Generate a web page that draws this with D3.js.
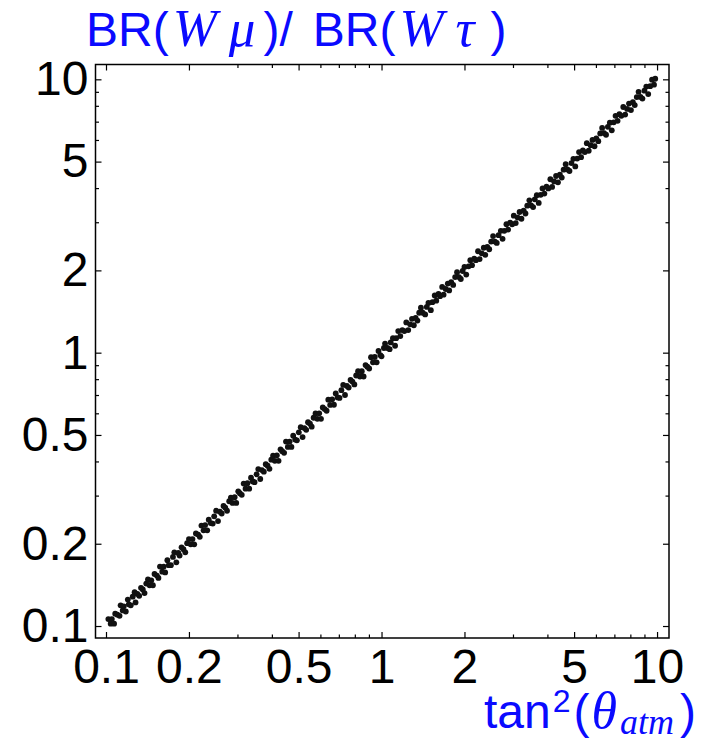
<!DOCTYPE html>
<html>
<head>
<meta charset="utf-8">
<script src="https://cdn.jsdelivr.net/npm/d3@7"></script>
<style>
  html, body { margin: 0; padding: 0; background: #fff; }
  svg { display: block; }
  .tick text { font-family: "Liberation Sans", Arial, Helvetica, sans-serif; fill: #000; }
  .tick line { stroke: #000; stroke-width: 1.2; }
</style>
</head>
<body>
<svg id="chart" width="704" height="743"></svg>
<script>
// tan^2(theta_atm) versus BR(W mu)/BR(W tau) for the parameter scan
const scanPoints = [
  [0.102,0.106],[0.104,0.102],[0.105,0.106],[0.107,0.102],[0.108,0.111],[0.110,0.110],[0.112,0.109],[0.113,0.119],
  [0.115,0.114],[0.116,0.118],[0.118,0.113],[0.120,0.125],[0.121,0.120],[0.123,0.119],[0.125,0.128],[0.127,0.133],
  [0.128,0.122],[0.130,0.131],[0.132,0.129],[0.134,0.138],[0.136,0.136],[0.138,0.132],[0.140,0.143],[0.142,0.148],
  [0.144,0.141],[0.146,0.147],[0.148,0.141],[0.150,0.155],[0.153,0.153],[0.155,0.150],[0.157,0.165],[0.160,0.158],
  [0.162,0.165],[0.164,0.157],[0.167,0.174],[0.169,0.167],[0.172,0.167],[0.175,0.179],[0.177,0.186],[0.180,0.171],
  [0.183,0.185],[0.185,0.181],[0.188,0.194],[0.191,0.191],[0.194,0.186],[0.197,0.201],[0.200,0.208],[0.203,0.199],
  [0.206,0.208],[0.209,0.199],[0.212,0.218],[0.216,0.216],[0.219,0.212],[0.222,0.233],[0.226,0.224],[0.229,0.234],
  [0.233,0.224],[0.236,0.245],[0.240,0.238],[0.244,0.237],[0.247,0.252],[0.251,0.264],[0.255,0.242],[0.259,0.262],
  [0.263,0.258],[0.267,0.275],[0.271,0.271],[0.275,0.264],[0.280,0.286],[0.284,0.295],[0.288,0.282],[0.293,0.296],
  [0.297,0.282],[0.302,0.311],[0.306,0.306],[0.311,0.302],[0.316,0.332],[0.321,0.318],[0.326,0.333],[0.331,0.318],
  [0.336,0.349],[0.341,0.338],[0.346,0.336],[0.352,0.359],[0.357,0.375],[0.363,0.345],[0.368,0.372],[0.374,0.367],
  [0.380,0.391],[0.386,0.386],[0.392,0.376],[0.398,0.406],[0.404,0.420],[0.410,0.402],[0.417,0.421],[0.423,0.402],
  [0.430,0.443],[0.436,0.436],[0.443,0.430],[0.450,0.473],[0.457,0.452],[0.464,0.473],[0.471,0.452],[0.478,0.497],
  [0.486,0.481],[0.493,0.478],[0.501,0.511],[0.509,0.534],[0.517,0.491],[0.525,0.530],[0.533,0.522],[0.541,0.557],
  [0.550,0.550],[0.558,0.536],[0.567,0.578],[0.576,0.599],[0.585,0.573],[0.594,0.600],[0.603,0.573],[0.612,0.630],
  [0.622,0.622],[0.632,0.613],[0.641,0.673],[0.651,0.644],[0.662,0.675],[0.672,0.645],[0.682,0.709],[0.693,0.686],
  [0.704,0.683],[0.715,0.729],[0.726,0.762],[0.737,0.700],[0.749,0.756],[0.760,0.745],[0.772,0.795],[0.784,0.784],
  [0.797,0.765],[0.809,0.825],[0.822,0.855],[0.835,0.818],[0.848,0.856],[0.861,0.818],[0.875,0.901],[0.888,0.888],
  [0.902,0.875],[0.916,0.962],[0.931,0.922],[0.945,0.964],[0.960,0.922],[0.975,1.014],[0.990,0.980],
  [1.00,0.970],[1.02,1.04],[1.03,1.08],[1.05,1.04],[1.07,1.03],[1.08,1.09],[1.10,1.13],[1.12,1.06],
  [1.13,1.13],[1.15,1.20],[1.17,1.15],[1.19,1.21],[1.21,1.20],[1.23,1.29],[1.25,1.21],[1.27,1.27],
  [1.29,1.33],[1.31,1.26],[1.33,1.34],[1.35,1.31],[1.37,1.40],[1.39,1.46],[1.41,1.40],[1.44,1.38],
  [1.46,1.47],[1.48,1.52],[1.51,1.43],[1.53,1.53],[1.56,1.62],[1.58,1.55],[1.61,1.64],[1.63,1.61],
  [1.66,1.74],[1.68,1.63],[1.71,1.71],[1.74,1.79],[1.76,1.69],[1.79,1.81],[1.82,1.77],[1.85,1.89],
  [1.88,1.97],[1.91,1.89],[1.94,1.86],[1.97,1.99],[2.00,2.06],[2.03,1.93],[2.07,2.07],[2.10,2.18],
  [2.13,2.09],[2.17,2.21],[2.20,2.18],[2.24,2.35],[2.27,2.20],[2.31,2.31],[2.35,2.42],[2.38,2.28],
  [2.42,2.44],[2.46,2.39],[2.50,2.55],[2.54,2.67],[2.58,2.55],[2.62,2.52],[2.66,2.69],[2.71,2.79],
  [2.75,2.61],[2.79,2.79],[2.84,2.95],[2.88,2.82],[2.93,2.99],[2.98,2.95],[3.02,3.17],[3.07,2.98],
  [3.12,3.12],[3.17,3.27],[3.22,3.09],[3.28,3.31],[3.33,3.23],[3.38,3.45],[3.44,3.61],[3.49,3.46],
  [3.55,3.41],[3.60,3.64],[3.66,3.77],[3.72,3.53],[3.78,3.78],[3.84,3.99],[3.90,3.82],[3.97,4.05],
  [4.03,3.99],[4.10,4.31],[4.16,4.04],[4.23,4.23],[4.30,4.43],[4.37,4.20],[4.44,4.48],[4.51,4.37],
  [4.58,4.67],[4.66,4.89],[4.73,4.68],[4.81,4.62],[4.89,4.94],[4.97,5.12],[5.05,4.80],[5.13,5.13],
  [5.21,5.42],[5.30,5.19],[5.38,5.49],[5.47,5.42],[5.56,5.84],[5.65,5.48],[5.74,5.74],[5.83,6.00],
  [5.93,5.69],[6.02,6.08],[6.12,5.94],[6.22,6.34],[6.32,6.64],[6.42,6.36],[6.53,6.27],[6.63,6.70],
  [6.74,6.94],[6.85,6.51],[6.96,6.96],[7.07,7.35],[7.19,7.05],[7.30,7.45],[7.42,7.35],[7.54,7.92],
  [7.66,7.43],[7.79,7.79],[7.91,8.15],[8.04,7.72],[8.17,8.25],[8.30,8.05],[8.44,8.61],[8.57,9.00],
  [8.71,8.62],[8.85,8.50],[9.00,9.09],[9.14,9.41],[9.29,8.83],[9.44,9.44],[9.59,9.97],[9.75,9.56],
  [9.85,10.05]
];

const xDomain = [0.0916, 11.05];
const yDomain = [0.0904, 11.33];
const majorTicks = [0.1, 0.2, 0.5, 1, 2, 5, 10];
const minorTicks = [0.3, 0.4, 0.6, 0.7, 0.8, 0.9, 3, 4, 6, 7, 8, 9];
const tickLabels = ["0.1", "0.2", "0.5", "1", "2", "5", "10"];

const frame = { left: 95.5, right: 669, top: 64.5, bottom: 638 };
const svg = d3.select("#chart");

const x = d3.scaleLog().domain(xDomain).range([frame.left, frame.right]);
const y = d3.scaleLog().domain(yDomain).range([frame.bottom, frame.top]);

const labelOf = d => tickLabels[majorTicks.indexOf(d)];
const majorLen = 6, minorLen = 3.5;

// scatter points
svg.append("g")
  .selectAll("circle")
  .data(scanPoints)
  .join("circle")
  .attr("cx", d => x(d[0]))
  .attr("cy", d => y(d[1]))
  .attr("r", 2.9)
  .attr("fill", "#111");

// axes on all four sides, ticks pointing inward
function addAxis(axis, transform, values, len, labelled, padding) {
  const g = svg.append("g").attr("transform", transform)
    .call(axis.tickValues(values).tickSize(-len).tickPadding(padding)
      .tickFormat(labelled ? labelOf : () => ""));
  g.select(".domain").remove();
  g.selectAll(".tick text").attr("font-size", 48);
  return g;
}
addAxis(d3.axisBottom(x), `translate(0,${frame.bottom})`, majorTicks, majorLen, true, 11);
addAxis(d3.axisBottom(x), `translate(0,${frame.bottom})`, minorTicks, minorLen, false, 0);
addAxis(d3.axisTop(x), `translate(0,${frame.top})`, majorTicks, majorLen, false, 0);
addAxis(d3.axisTop(x), `translate(0,${frame.top})`, minorTicks, minorLen, false, 0);
addAxis(d3.axisLeft(y), `translate(${frame.left},0)`, majorTicks, majorLen, true, 7);
addAxis(d3.axisLeft(y), `translate(${frame.left},0)`, minorTicks, minorLen, false, 0);
addAxis(d3.axisRight(y), `translate(${frame.right},0)`, majorTicks, majorLen, false, 0);
addAxis(d3.axisRight(y), `translate(${frame.right},0)`, minorTicks, minorLen, false, 0);

// frame
svg.append("rect")
  .attr("x", frame.left).attr("y", frame.top)
  .attr("width", frame.right - frame.left).attr("height", frame.bottom - frame.top)
  .attr("fill", "none").attr("stroke", "#000").attr("stroke-width", 1.5);

const sans = "'Liberation Sans', Arial, Helvetica, sans-serif";
const serif = "'Liberation Serif', 'Times New Roman', serif";
const blue = "#0a0aff";

// title: BR(W mu)/ BR(W tau)
const title = svg.append("text")
  .attr("x", 86).attr("y", 46)
  .attr("font-size", 48).attr("fill", blue).attr("font-family", sans);
[["BR(", false, 0], ["W", true, 4], ["\u03bc", true, 12], [")/", false, 8], ["BR(", false, 20], ["W", true, 4], ["\u03c4", true, 12], [")", false, 16]]
  .forEach(([t, it, gap]) => {
    const s = title.append("tspan").text(t).attr("dx", gap);
    if (it) s.attr("font-family", serif).attr("font-style", "italic").attr("font-size", 53);
  });

// x-axis label: tan^2(theta_atm)
const xl = svg.append("text")
  .attr("x", 484).attr("y", 728)
  .attr("font-size", 48).attr("fill", blue).attr("font-family", sans);
xl.append("tspan").text("tan");
xl.append("tspan").text("2").attr("font-size", 32).attr("dx", 2).attr("dy", -16);
xl.append("tspan").text("(").attr("dx", 3).attr("dy", 16);
xl.append("tspan").text("\u03b8").attr("font-family", serif).attr("font-style", "italic").attr("font-size", 52).attr("dx", 2);
xl.append("tspan").text("atm").attr("font-family", serif).attr("font-style", "italic").attr("font-size", 36).attr("dx", 3).attr("dy", 6);
xl.append("tspan").text(")").attr("dx", 6).attr("dy", -6);
</script>
</body>
</html>
